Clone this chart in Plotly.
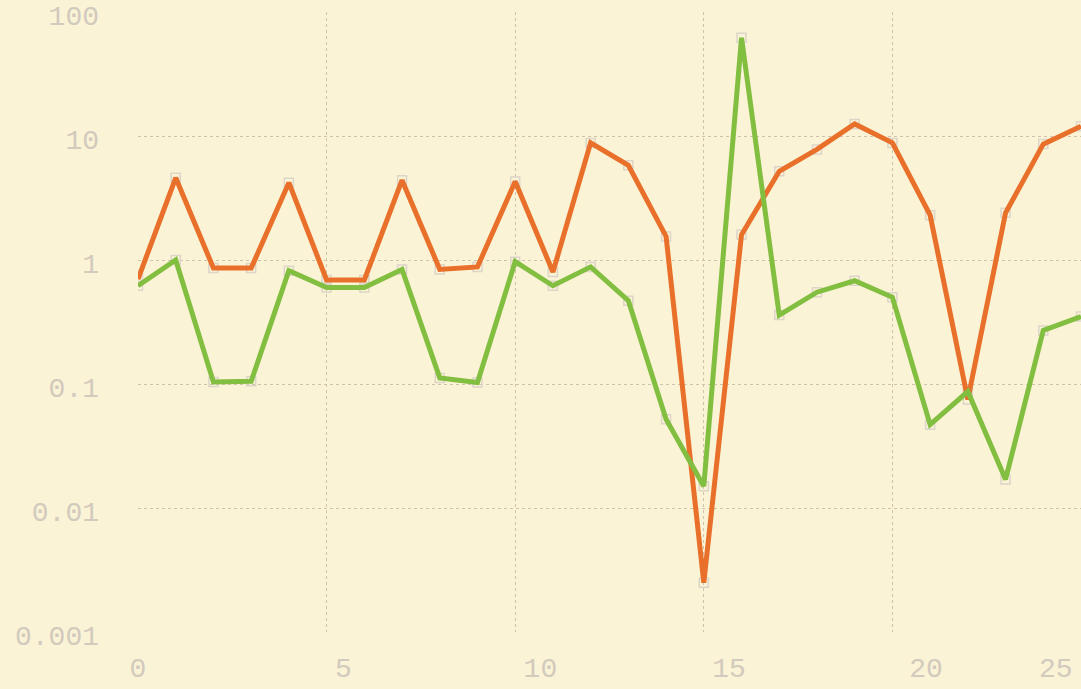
import plotly.graph_objects as go

x_vals = list(range(26))
orange_vals = [0.70, 4.6, 0.86, 0.86, 4.2, 0.69, 0.69, 4.4, 0.84, 0.88, 4.3, 0.80,
               8.8, 5.8, 1.55, 0.0025, 1.6, 5.2, 7.8, 12.5, 8.8, 2.3, 0.075, 2.4, 8.6, 12.0]
green_vals = [0.62, 1.0, 0.104, 0.105, 0.82, 0.60, 0.60, 0.84, 0.112, 0.103, 0.97, 0.62,
              0.88, 0.47, 0.052, 0.015, 62.0, 0.36, 0.55, 0.68, 0.50, 0.047, 0.087, 0.017, 0.27, 0.35]
y_tickvals = [0.001, 0.01, 0.1, 1, 10, 100]
y_ticktext = ["0.001", "0.01", "0.1", "1", "10", "100"]
x_tickvals = [0, 5, 10, 15, 20, 25]
NB = "\u00a0"
x_ticktext = ["0", NB * 2 + "5", NB * 3 + "10", NB * 3 + "15", NB * 4 + "20", "25" + NB * 3]

paper = "#fbf3d6"
grid = "#cfc3ad"
label_col = "#d2cabd"
font_fam = "Liberation Mono, DejaVu Sans Mono, monospace"

fig = go.Figure()
for vals in (orange_vals, green_vals):
    fig.add_trace(go.Scatter(x=x_vals, y=vals, mode="markers",
                             marker=dict(symbol="square-open", size=9, color="#dcd5c8",
                                         line=dict(width=1.5)),
                             showlegend=False, hoverinfo="skip"))
fig.add_trace(go.Scatter(x=x_vals, y=orange_vals, mode="lines",
                         line=dict(color="#e8702a", width=5), showlegend=False))
fig.add_trace(go.Scatter(x=x_vals, y=green_vals, mode="lines",
                         line=dict(color="#82be40", width=5), showlegend=False))

fig.update_layout(
    width=1081, height=689,
    margin=dict(l=138, r=0, t=12, b=57, autoexpand=False),
    paper_bgcolor=paper, plot_bgcolor=paper,
    font=dict(family=font_fam, size=28, color=label_col),
    showlegend=False,
)
fig.update_xaxes(range=[0, 25], tickvals=x_tickvals, ticktext=x_ticktext,
                 showgrid=True, gridcolor=grid,
                 griddash="dot", gridwidth=1, zeroline=False, showline=False,
                 ticks="", ticklabelstandoff=16,
                 ticklabeloverflow="allow", automargin=False,
                 tickfont=dict(family=font_fam, size=28, color=label_col))
fig.update_yaxes(type="log", range=[-3, 2], tickvals=y_tickvals, ticktext=y_ticktext,
                 showgrid=True, gridcolor=grid, griddash="dot", gridwidth=1,
                 zeroline=False, showline=False, ticks="", ticklabelstandoff=38,
                 ticklabelshift=3, ticklabeloverflow="allow", automargin=False,
                 tickfont=dict(family=font_fam, size=28, color=label_col))

fig.write_html("out.html", config={"displayModeBar": False},
               post_script="document.body.style.margin='0';document.body.style.background='%s';" % paper)
